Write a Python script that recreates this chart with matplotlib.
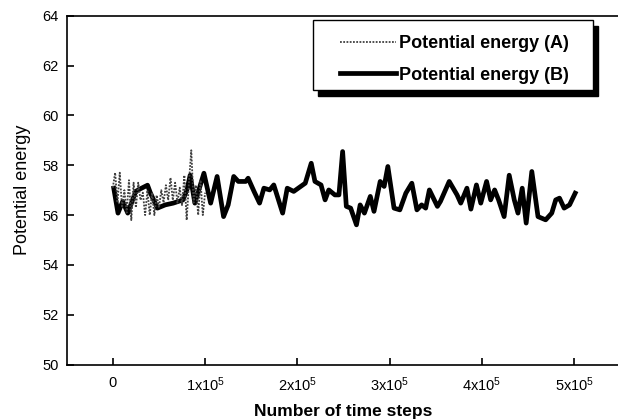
import numpy as np
import matplotlib
matplotlib.use("Agg")
import matplotlib.pyplot as plt
from matplotlib.patches import Rectangle

plt.rcParams['font.family'] = ['Liberation Sans', 'DejaVu Sans']
plt.rcParams['mathtext.fontset'] = 'custom'
plt.rcParams['mathtext.rm'] = 'Liberation Sans'
plt.rcParams['mathtext.it'] = 'Liberation Sans'

# run A: short run, sampled every 2500 steps
steps_a = np.arange(0, 100001, 2500)
energy_a = [57.1, 57.7, 56.5, 57.7, 56.3, 57.0, 56.1, 57.4, 55.8, 57.3,
            56.3, 57.3, 56.6, 56.9, 56.0, 57.0, 56.0, 56.9, 56.0, 56.8,
            56.3, 57.0, 56.5, 57.2, 56.6, 57.5, 56.6, 57.3, 56.5, 57.1,
            56.4, 57.6, 55.8, 57.3, 58.6, 56.5, 57.2, 56.0, 57.4, 56.0,
            56.9]

# run B: long run
steps_b = [1e3, 5.6e3, 10.7e3, 16.2e3, 24.8e3, 29e3, 37.6e3, 40.6e3, 48.3e3, 56.8e3,
           65.4e3, 76e3, 80.3e3, 83.8e3, 88.9e3, 98.7e3, 106e3, 113e3, 120e3, 125e3,
           131e3, 136e3, 144e3, 146.6e3, 153e3, 159e3, 163.7e3, 170e3, 174.4e3, 184e3,
           189e3, 196e3, 208.5e3, 215e3, 219e3, 225.6e3, 230e3, 234e3, 240.6e3, 245e3,
           249e3, 253e3, 257.7e3, 264e3, 268e3, 272.6e3, 279e3, 283e3, 289.7e3, 294e3,
           298e3, 304.7e3, 311e3, 317.5e3, 324e3, 329.5e3, 334.6e3, 339e3, 343e3, 351.7e3,
           355e3, 364.5e3, 373e3, 377e3, 383.7e3, 388e3, 394e3, 398.7e3, 405e3, 409.4e3,
           413.7e3, 418e3, 424e3, 429.5e3, 435e3, 439e3, 443.6e3, 447.9e3, 454e3, 460.7e3,
           469e3, 475.6e3, 479.9e3, 484e3, 489e3, 494.9e3, 501e3]
energy_b = [57.08, 56.08, 56.55, 56.08, 56.95, 57.04, 57.2, 56.9, 56.28, 56.41,
            56.48, 56.61, 57.01, 57.6, 56.48, 57.68, 56.48, 57.55, 55.94, 56.41,
            57.55, 57.35, 57.35, 57.48, 56.95, 56.48, 57.08, 57.01, 57.21, 56.08,
            57.08, 56.95, 57.28, 58.08, 57.35, 57.21, 56.61, 57.01, 56.81, 56.81,
            58.55, 56.35, 56.28, 55.61, 56.41, 56.08, 56.75, 56.15, 57.35, 57.15,
            57.95, 56.28, 56.21, 56.88, 57.28, 56.21, 56.41, 56.28, 57.01, 56.35,
            56.55, 57.35, 56.81, 56.48, 57.08, 56.24, 57.21, 56.48, 57.35, 56.61,
            57.01, 56.61, 55.94, 57.6, 56.61, 56.08, 57.08, 55.68, 57.75, 55.94,
            55.81, 56.08, 56.61, 56.68, 56.28, 56.41, 56.88]

xticks = [0, 1e5, 2e5, 3e5, 4e5, 5e5]
xtick_labels = ['0', r'1x10$^5$', r'2x10$^5$', r'3x10$^5$', r'4x10$^5$', r'5x10$^5$']
yticks = np.arange(50, 65, 2)

fig = plt.figure(figsize=(6.18, 4.20), dpi=100)
ax = fig.add_axes([0.1079, 0.1317, 0.896, 0.831])

la, = ax.plot(steps_a, energy_a, color='#404040', lw=1.3, ls=(0, (1, 0.8)),
              label='Potential energy (A)', zorder=3)
lb, = ax.plot(steps_b, energy_b, color='black', lw=3.4, solid_joinstyle='round',
              label='Potential energy (B)', zorder=2)

ax.set_xlim(-5e4, 5.5e5)
ax.set_ylim(50, 64)
ax.set_xticks(xticks)
ax.set_xticklabels(xtick_labels)
ax.set_yticks(yticks)
ax.tick_params(direction='in', length=5, width=1.2, labelsize=10.5)
ax.tick_params(axis='y', pad=6)
ax.tick_params(axis='x', pad=8)
for s in ['left', 'bottom', 'top', 'right']:
    ax.spines[s].set_linewidth(1.2)

ax.set_ylabel('Potential energy', fontsize=13, labelpad=8)
ax.set_xlabel('Number of time steps', fontsize=12.5, fontweight='bold', labelpad=7)

# legend box with solid drop shadow
bx0, bx1, by0, by1 = 0.4442, 0.9509, 0.7871, 0.9877
ax.add_patch(Rectangle((bx0 + 0.009, by0 - 0.0172), bx1 - bx0, by1 - by0,
                       transform=ax.transAxes, facecolor='black', edgecolor='black',
                       zorder=5, clip_on=False))
ax.add_patch(Rectangle((bx0, by0), bx1 - bx0, by1 - by0, transform=ax.transAxes,
                       facecolor='white', edgecolor='black', lw=1.0, zorder=6,
                       clip_on=False))
leg = ax.legend(handles=[la, lb], loc='upper left', bbox_to_anchor=(0.4935, 0.944),
                frameon=False, borderpad=0, borderaxespad=0, handlelength=3.1,
                handletextpad=0.15, labelspacing=0.8,
                prop={'weight': 'bold', 'size': 13})
leg.set_zorder(7)

fig.savefig('out.png', dpi=100)
